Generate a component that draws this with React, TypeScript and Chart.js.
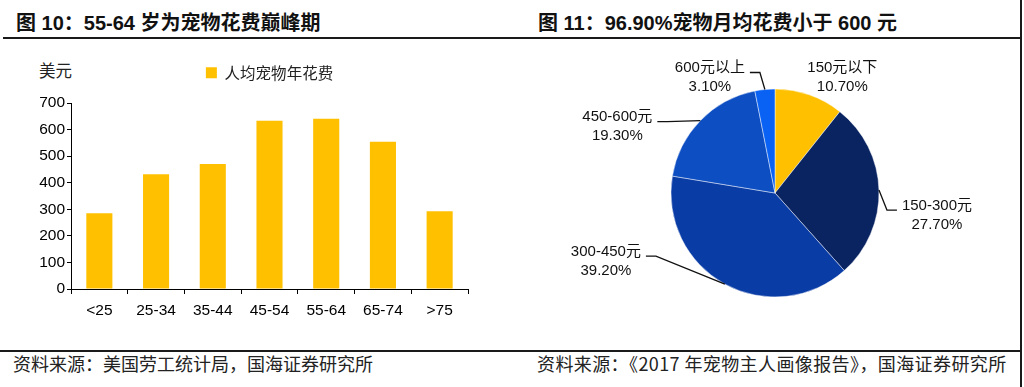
import React, { useEffect, useRef } from "react";
import { Chart, registerables } from "chart.js";

Chart.register(...registerables);

// ---- data ----
const ageGroups = ["<25", "25-34", "35-44", "45-54", "55-64", "65-74", ">75"];
const annualSpend = [285, 432, 470, 633, 641, 554, 293];
const barSeriesName = "人均宠物年花费";
const yAxisMax = 700;
const yAxisStep = 100;

const spendBands = ["150元以下", "150-300元", "300-450元", "450-600元", "600元以上"];
const bandShares = [10.7, 27.7, 39.2, 19.3, 3.1];

// ---- styles / layout ----
const barColor = "#FFC000";
const bandColors = ["#FFC000", "#0A2462", "#0A3CA6", "#0D4EC2", "#0A62F5"];
// label centre offset from the slice's outer-edge midpoint, and whether a leader line is drawn
const labelOffsetX = [33, 58, -119, -83, -55];
const labelOffsetY = [-17, 25, -23, 6, -12];
const labelLeader = [false, true, true, true, true];

const LATIN = '"Liberation Sans", Arial, "Noto Sans CJK SC", sans-serif';
const CJK = '"Noto Sans CJK SC", "Liberation Sans", sans-serif';

const pieLabelPlugin = {
  id: "pieLabels",
  afterDatasetsDraw(chart: any) {
    const meta = chart.getDatasetMeta(0);
    const ctx = chart.ctx as CanvasRenderingContext2D;
    ctx.save();
    ctx.font = `15px ${LATIN}`;
    ctx.textAlign = "center";
    ctx.textBaseline = "middle";
    ctx.fillStyle = "#111";
    ctx.strokeStyle = "#111";
    ctx.lineWidth = 1.3;
    const gap = 19;
    meta.data.forEach((arc: any, i: number) => {
      const p = arc.getProps(["x", "y", "startAngle", "endAngle", "outerRadius"], true);
      const mid = (p.startAngle + p.endAngle) / 2;
      const ex = p.x + Math.cos(mid) * p.outerRadius;
      const ey = p.y + Math.sin(mid) * p.outerRadius;
      const cx = ex + labelOffsetX[i];
      const cy = ey + labelOffsetY[i];
      const lines = [spendBands[i], bandShares[i].toFixed(2) + "%"];
      const w = Math.max(...lines.map((l) => ctx.measureText(l).width));
      ctx.fillText(lines[0], cx, cy - gap / 2);
      ctx.fillText(lines[1], cx, cy + gap / 2);
      if (labelLeader[i]) {
        const side = labelOffsetX[i] < 0 ? 1 : -1;
        const ax = cx + side * (w / 2 + 5);
        const ay = cy - 5;
        const bx = ax + side * 10;
        ctx.beginPath();
        ctx.moveTo(ax, ay);
        ctx.lineTo(bx, ay);
        ctx.lineTo(ex, ey);
        ctx.stroke();
      }
    });
    ctx.restore();
  },
};

export default function App() {
  const barRef = useRef<HTMLCanvasElement>(null);
  const pieRef = useRef<HTMLCanvasElement>(null);

  useEffect(() => {
    const tickFont = { family: LATIN, size: 15.5 };
    const bar = new Chart(barRef.current as HTMLCanvasElement, {
      type: "bar",
      data: {
        labels: ageGroups,
        datasets: [
          {
            label: barSeriesName,
            data: annualSpend,
            backgroundColor: barColor,
            borderWidth: 0,
            barPercentage: 0.46,
            categoryPercentage: 1,
          },
        ],
      },
      options: {
        animation: false,
        responsive: false,
        maintainAspectRatio: false,
        layout: { padding: { left: 0, right: 32, top: 0, bottom: 0 } },
        plugins: {
          legend: {
            display: true,
            position: "top",
            fullSize: false,
            weight: 3000,
            labels: {
              boxWidth: 11,
              boxHeight: 11,
              padding: 10,
              color: "#222",
              font: { family: CJK, size: 15.5 },
            },
          } as any,
          subtitle: {
            display: true,
            text: " ",
            padding: 0,
            font: { size: 10, lineHeight: 1.25 },
          },
          tooltip: { enabled: false },
        },
        scales: {
          x: {
            grid: {
              display: true,
              drawOnChartArea: false,
              drawTicks: true,
              tickLength: 5,
              color: "#000",
              offset: true,
            },
            border: { display: true, color: "#000", width: 1 },
            ticks: { color: "#000", font: tickFont, padding: 7, maxRotation: 0 },
            afterFit: (s: any) => {
              s.height = 41;
            },
          },
          y: {
            min: 0,
            max: yAxisMax,
            ticks: { stepSize: yAxisStep, color: "#000", font: tickFont, padding: 2 },
            grid: {
              display: true,
              drawOnChartArea: false,
              drawTicks: true,
              tickLength: 4,
              color: "#000",
            },
            border: { display: true, color: "#000", width: 1 },
            afterFit: (s: any) => {
              s.width = 71;
            },
          },
        },
      } as any,
    });

    const pie = new Chart(pieRef.current as HTMLCanvasElement, {
      type: "pie",
      data: {
        labels: spendBands,
        datasets: [
          {
            data: bandShares,
            backgroundColor: bandColors,
            borderColor: "rgba(255,255,255,0.45)",
            borderWidth: 1,
          },
        ],
      },
      options: {
        animation: false,
        responsive: false,
        maintainAspectRatio: false,
        layout: { padding: { left: 125.5, right: 125.5, top: 45.5, bottom: 45.5 } },
        plugins: { legend: { display: false }, tooltip: { enabled: false } },
      },
      plugins: [pieLabelPlugin],
    });

    return () => {
      bar.destroy();
      pie.destroy();
    };
  }, []);

  const titleStyle: React.CSSProperties = {
    position: "absolute",
    top: 11,
    font: `bold 20px ${LATIN}`,
    lineHeight: "24px",
    color: "#111",
    whiteSpace: "pre",
  };
  const footStyle: React.CSSProperties = {
    position: "absolute",
    top: 351,
    font: `18px ${CJK}`,
    lineHeight: "24px",
    color: "#222",
    whiteSpace: "pre",
  };

  return (
    <div
      style={{
        position: "fixed",
        left: 0,
        top: 0,
        width: 1024,
        height: 387,
        background: "#fff",
        overflow: "hidden",
      }}
    >
      <div style={{ ...titleStyle, left: 16 }}>图 10：55-64 岁为宠物花费巅峰期</div>
      <div style={{ ...titleStyle, left: 538 }}>图 11：96.90%宠物月均花费小于 600 元</div>
      <div style={{ position: "absolute", left: 3, top: 37, width: 1019, height: 2, background: "#1a1a1a" }} />
      <div style={{ position: "absolute", left: 0, top: 350, width: 1022, height: 2, background: "#1a1a1a" }} />
      <div style={{ position: "absolute", left: 1020, top: 0, width: 2, height: 387, background: "#1a1a1a" }} />
      <div
        style={{
          position: "absolute",
          left: 39,
          top: 58,
          font: `16.5px ${CJK}`,
          lineHeight: "24px",
          color: "#222",
        }}
      >
        美元
      </div>
      <canvas
        ref={barRef}
        width={500}
        height={275}
        style={{ position: "absolute", left: 0, top: 55, width: 500, height: 275 }}
      />
      <canvas
        ref={pieRef}
        width={460}
        height={300}
        style={{ position: "absolute", left: 545, top: 43, width: 460, height: 300 }}
      />
      <div style={{ ...footStyle, left: 13 }}>资料来源：美国劳工统计局，国海证券研究所</div>
      <div style={{ ...footStyle, left: 537, letterSpacing: "0.4px" }}>资料来源：《2017 年宠物主人画像报告》，国海证券研究所</div>
    </div>
  );
}
